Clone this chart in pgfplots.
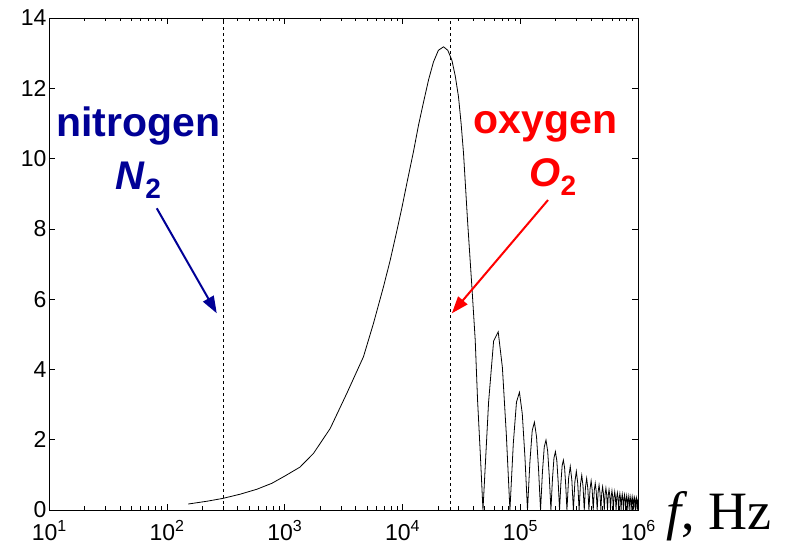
\documentclass[border=0pt]{standalone}
\usepackage{pgfplots}
\pgfplotsset{compat=1.18}
\usepackage{fontspec}
\setmainfont{Liberation Sans}
\newfontfamily\timesfont{Liberation Serif}
\usetikzlibrary{arrows.meta}
\definecolor{nblue}{RGB}{0,0,150}
\definecolor{ored}{RGB}{255,0,0}
\newcommand\tl{\fontsize{23}{25}\selectfont}
\newcommand\tp[1]{\tl 10\raisebox{9pt}{\fontsize{16}{17}\selectfont #1}}
\begin{document}
\begin{tikzpicture}[x=1pt,y=1pt]
\useasboundingbox (-49,-38) rectangle (738,510);
\begin{axis}[
  at={(0,0)}, anchor=south west,
  scale only axis, width=589pt, height=492pt,
  xmode=log, xmin=10, xmax=1e6, ymin=0, ymax=14,
  ytick={0,2,4,6,8,10,12,14},
  yticklabels={{\tl 0},{\tl 2},{\tl 4},{\tl 6},{\tl 8},{\tl 10},{\tl 12},{\tl 14}},
  xtick={10,100,1000,10000,100000,1000000},
  xticklabels={{\tp{1}},{\tp{2}},{\tp{3}},{\tp{4}},{\tp{5}},{\tp{6}}},
  minor xtick={20,30,40,50,60,70,80,90,200,300,400,500,600,700,800,900,2000,3000,4000,5000,6000,7000,8000,9000,20000,30000,40000,50000,60000,70000,80000,90000,200000,300000,400000,500000,600000,700000,800000,900000},
  tick align=inside,
  major tick length=6pt, minor tick length=3.5pt,
  yticklabel style={xshift=1pt},
  xticklabel style={yshift=-7pt},
  axis line style={line width=0.8pt},
  every tick/.style={black, line width=0.6pt},
  clip=false,
]
\addplot[black, line width=0.8pt] coordinates {
(152,0.17)(220,0.25)(299,0.33)(420,0.45)(581,0.59)(780,0.76)(1009,0.97)(1350,1.22)(1758,1.61)(2438,2.32)(3375,3.32)(4670,4.36)(5680,5.31)(6905,6.35)(7870,7.10)(8980,7.95)(9900,8.60)(11040,9.38)(12420,10.20)(13700,10.95)(15100,11.60)(16700,12.25)(18360,12.75)(20200,13.08)(22340,13.18)(24300,13.08)(26300,12.80)(28100,12.35)(29930,11.76)(31500,11.0)(33030,10.15)(35700,8.25)(38900,6.35)(41500,4.84)(43450,3.13)(46000,1.5)(48300,0)
(53880,3.06)(59470,4.81)(65050,5.07)(70630,4.05)(76220,2.16)(81800,0)
(87380,1.89)(92970,3.07)(98550,3.35)(104130,2.74)(109720,1.50)(115300,0)
(120880,1.37)(126470,2.26)(132050,2.50)(137630,2.08)(143220,1.15)(148800,0)
(154380,1.07)(159970,1.79)(165550,1.99)(171130,1.67)(176720,0.93)(182300,0)
(187880,0.88)(193470,1.48)(199050,1.66)(204630,1.40)(210220,0.78)(215800,0)
(221380,0.75)(226970,1.26)(232550,1.42)(238130,1.20)(243720,0.68)(249300,0)
(257680,0.91)(266050,1.24)(274430,0.85)(282800,0)
(291180,0.80)(299550,1.10)(307930,0.76)(316300,0)
(324680,0.72)(333050,0.99)(341430,0.68)(349800,0)
(358180,0.65)(366550,0.90)(374930,0.62)(383300,0)
(391680,0.60)(400050,0.83)(408430,0.57)(416800,0)
(425180,0.55)(433550,0.76)(441930,0.53)(450300,0)
(458680,0.51)(467050,0.71)(475430,0.49)(483800,0)
(492180,0.47)(500550,0.66)(508930,0.46)(517300,0)
(525680,0.44)(534050,0.62)(542430,0.43)(550800,0)
(559180,0.42)(567550,0.58)(575930,0.41)(584300,0)
(592680,0.39)(601050,0.55)(609430,0.38)(617800,0)
(626180,0.37)(634550,0.52)(642930,0.36)(651300,0)
(659680,0.35)(668050,0.49)(676430,0.35)(684800,0)
(693180,0.34)(701550,0.47)(709930,0.33)(718300,0)
(726680,0.32)(735050,0.45)(743430,0.31)(751800,0)
(760180,0.31)(768550,0.43)(776930,0.30)(785300,0)
(793680,0.29)(802050,0.41)(810430,0.29)(818800,0)
(827180,0.28)(835550,0.40)(843930,0.28)(852300,0)
(860680,0.27)(869050,0.38)(877430,0.27)(885800,0)
(894180,0.26)(902550,0.37)(910930,0.26)(919300,0)
(927680,0.25)(936050,0.35)(944430,0.25)(952800,0)
(961180,0.24)(969550,0.34)(977930,0.24)(986300,0)
(994680,0.23)(1000000,0.32)
};
\addplot[black, line width=0.6pt, dash pattern=on 3pt off 3pt] coordinates {(299,0) (299,14)};
\addplot[black, line width=0.6pt, dash pattern=on 3pt off 3pt] coordinates {(25500,0) (25500,14)};
\node[anchor=base, text=nblue, font=\fontsize{41}{44}\bfseries\selectfont, inner sep=0pt] at (axis cs:57.5,10.62) {nitrogen};
\node[anchor=base, text=nblue, font=\fontsize{40}{44}\bfseries\selectfont, inner sep=0pt] at (axis cs:57.5,9.13) {\textit{N}\raisebox{-9pt}{\fontsize{28}{30}\selectfont 2}};
\node[anchor=base, text=ored, font=\fontsize{41}{44}\bfseries\selectfont, inner sep=0pt] at (axis cs:163300,10.72) {oxygen};
\node[anchor=base, text=ored, font=\fontsize{40}{44}\bfseries\selectfont, inner sep=0pt] at (axis cs:189000,9.2) {\textit{O}\raisebox{-9pt}{\fontsize{28}{30}\selectfont 2}};
\draw[nblue, line width=2pt, -{Triangle[length=17pt,width=12pt]}] (axis cs:82.2,8.585) -- (axis cs:265.5,5.597);
\draw[ored, line width=2pt, -{Triangle[length=17pt,width=12pt]}] (axis cs:172200,8.82) -- (axis cs:26300,5.597);
\end{axis}
\node[anchor=base west, font=\timesfont\fontsize{54}{56}\selectfont, inner sep=0pt] at (617,-20) {\textit{f}, Hz};
\end{tikzpicture}
\end{document}
